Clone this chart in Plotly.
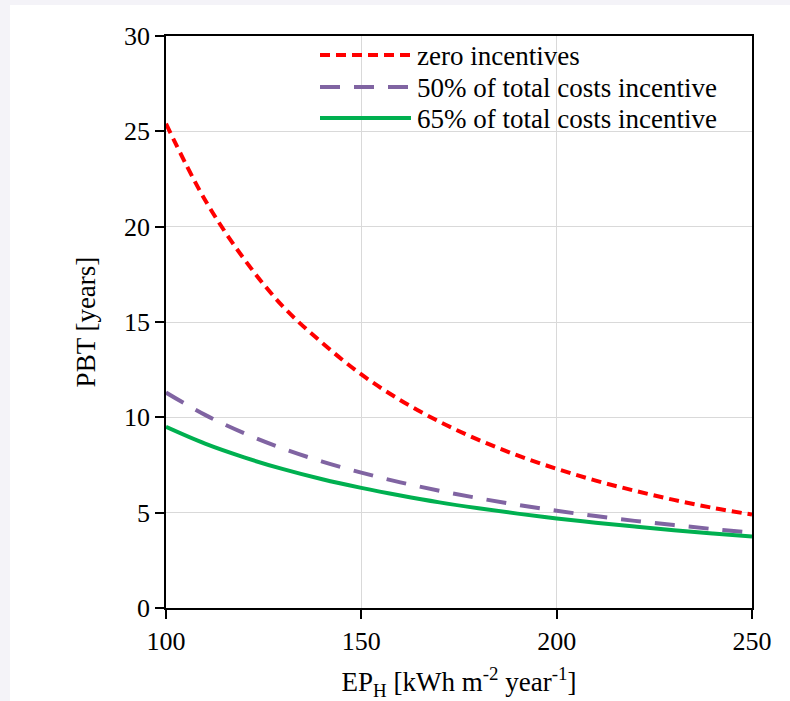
import plotly.graph_objects as go

x_vals = [100, 110, 120, 130, 140, 150, 160, 170, 180, 190, 200, 210, 220, 230, 240, 250]
zero_incentives = [25.4, 21.4, 18.3, 15.8, 13.9, 12.25, 10.9, 9.77, 8.82, 8.0, 7.3, 6.68, 6.15, 5.67, 5.25, 4.9]
incentive_50 = [11.3, 10.13, 9.17, 8.36, 7.68, 7.10, 6.59, 6.15, 5.76, 5.41, 5.10, 4.82, 4.57, 4.35, 4.14, 3.95]
incentive_65 = [9.5, 8.62, 7.90, 7.28, 6.75, 6.30, 5.90, 5.54, 5.23, 4.95, 4.70, 4.47, 4.27, 4.08, 3.91, 3.75]
series_names = ["zero incentives", "50% of total costs incentive", "65% of total costs incentive"]
x_ticks = [100, 150, 200, 250]
y_ticks = [0, 5, 10, 15, 20, 25, 30]

colors = ["#ff0000", "#8064a2", "#00b050"]
dashes = ["10px,6px", "20px,14px", "solid"]
series = [zero_incentives, incentive_50, incentive_65]

FONT = "Liberation Serif, Times New Roman, Times, serif"

fig = go.Figure()
for name, ys, c, d in zip(series_names, series, colors, dashes):
    fig.add_trace(go.Scatter(x=x_vals, y=ys, mode="lines", name=name,
                             line=dict(color=c, width=4, dash=d, shape="spline"),
                             showlegend=False))

# plot area in pixels
L, R, T, B = 166, 752, 36, 608
W, H = 790, 701
pw, ph = R - L, B - T

def px_x(p):
    return (p - L) / pw

def px_y(p):
    return (B - p) / ph

shapes = [
    dict(type="rect", xref="paper", yref="paper", x0=px_x(10), x1=px_x(800),
         y0=px_y(715), y1=px_y(5), fillcolor="white", line=dict(width=0), layer="below"),
]
annotations = []
leg_rows = [55, 87, 118]
for name, c, d, yy in zip(series_names, colors, dashes, leg_rows):
    shapes.append(dict(type="line", xref="paper", yref="paper",
                       x0=px_x(320), x1=px_x(411), y0=px_y(yy), y1=px_y(yy),
                       line=dict(color=c, width=4, dash=d)))
    annotations.append(dict(text=name, xref="paper", yref="paper", x=px_x(415), y=px_y(yy + 1),
                            xanchor="left", yanchor="middle", showarrow=False,
                            font=dict(family=FONT, size=27, color="black")))

fig.update_layout(
    width=W, height=H,
    margin=dict(l=L, r=W - R, t=T, b=H - B),
    paper_bgcolor="#f4f3f8",
    plot_bgcolor="white",
    shapes=shapes,
    annotations=annotations,
    font=dict(family=FONT, size=26, color="black"),
    xaxis=dict(range=[100, 250], tickvals=x_ticks, ticks="outside", ticklen=9, tickwidth=1.5,
               tickcolor="black", showline=True, linecolor="black", linewidth=1.5, mirror=True,
               showgrid=True, gridcolor="#d9d9d9", gridwidth=1.2, zeroline=False,
               automargin=False,
               tickfont=dict(family=FONT, size=26),
               title=dict(text="EP<sub>H</sub> [kWh m<sup>-2</sup> year<sup>-1</sup>]",
                          font=dict(family=FONT, size=27), standoff=25)),
    yaxis=dict(range=[0, 30], tickvals=y_ticks, ticks="outside", ticklen=9, tickwidth=1.5,
               tickcolor="black", showline=True, linecolor="black", linewidth=1.5, mirror=True,
               showgrid=True, gridcolor="#d9d9d9", gridwidth=1.2, zeroline=False,
               automargin=False,
               tickfont=dict(family=FONT, size=26),
               title=dict(text="PBT [years]", font=dict(family=FONT, size=27), standoff=21)),
)

post = """
document.body.style.margin = '0';
document.body.style.background = '#f4f3f8';
"""

fig.write_html("out.html", post_script=post, config={"displayModeBar": False})
